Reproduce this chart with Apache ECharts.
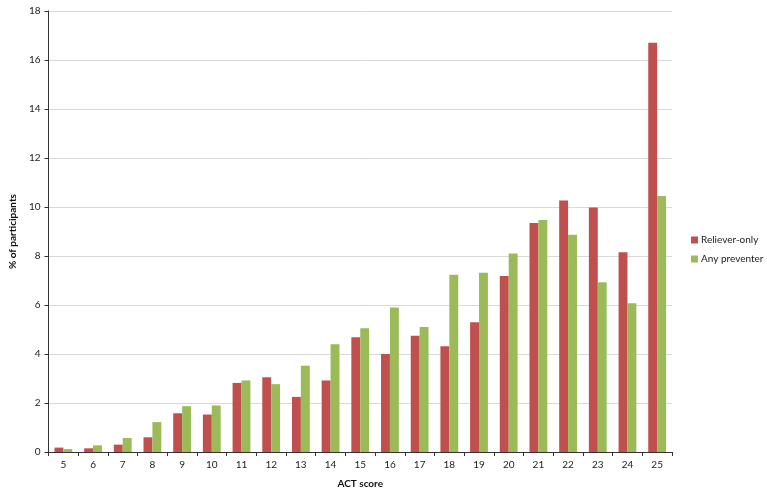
<!DOCTYPE html>
<html>
<head>
<meta charset="utf-8">
<script src="https://cdn.jsdelivr.net/npm/echarts@6/dist/echarts.min.js"></script>
<style>
  html, body { margin: 0; padding: 0; background: #fff; }
  #chart { width: 767px; height: 500px; }
</style>
</head>
<body>
<div id="chart"></div>
<script>
  var categories = ['5', '6', '7', '8', '9', '10', '11', '12', '13', '14', '15',
                    '16', '17', '18', '19', '20', '21', '22', '23', '24', '25'];
  var relieverOnly = [0.18, 0.15, 0.3, 0.6, 1.58, 1.53, 2.82, 3.05, 2.25, 2.92, 4.68,
                      4.0, 4.75, 4.32, 5.3, 7.18, 9.35, 10.27, 9.98, 8.15, 16.7];
  var anyPreventer = [0.12, 0.27, 0.57, 1.22, 1.87, 1.9, 2.92, 2.77, 3.52, 4.4, 5.05,
                      5.9, 5.1, 7.23, 7.32, 8.1, 9.47, 8.87, 6.93, 6.07, 10.45];
  var seriesNames = ['Reliever-only', 'Any preventer'];

  var font = 'Lato, "Open Sans", sans-serif';
  var myChart = echarts.init(document.getElementById('chart'));
  var option = {
    backgroundColor: '#fff',
    animation: false,
    textStyle: { fontFamily: font },
    legend: {
      orient: 'vertical',
      left: 686,
      top: 230,
      itemWidth: 7,
      itemHeight: 7,
      itemGap: 9,
      icon: 'rect',
      textStyle: { fontSize: 10, color: '#222', fontFamily: font, padding: [0, 0, 0, -2] },
      data: seriesNames
    },
    grid: { left: 48, right: 95, top: 11, bottom: 48 },
    xAxis: {
      type: 'category',
      data: categories,
      name: 'ACT score',
      nameLocation: 'middle',
      nameGap: 27,
      nameTextStyle: { fontSize: 10, fontWeight: 'bold', color: '#111', fontFamily: font },
      axisLine: { lineStyle: { color: '#333', width: 1 } },
      axisTick: { show: true, length: 4, lineStyle: { color: '#333' } },
      axisLabel: { fontSize: 10, color: '#222', margin: 8, fontFamily: font },
      splitLine: { show: false }
    },
    yAxis: {
      type: 'value',
      min: 0,
      max: 18,
      interval: 2,
      name: '% of participants',
      nameLocation: 'middle',
      nameRotate: 90,
      nameGap: 24,
      nameTextStyle: { fontSize: 10, fontWeight: 'bold', color: '#111', fontFamily: font },
      axisLine: { show: true, lineStyle: { color: '#333', width: 1 } },
      axisTick: { show: true, length: 4, lineStyle: { color: '#333' } },
      axisLabel: { fontSize: 10, color: '#222', margin: 8, fontFamily: font },
      splitLine: { lineStyle: { color: '#d9d9d9', width: 1 } }
    },
    series: [
      {
        name: seriesNames[0],
        type: 'bar',
        data: relieverOnly,
        barGap: '0%',
        barCategoryGap: '40%',
        itemStyle: { color: '#c0504d' }
      },
      {
        name: seriesNames[1],
        type: 'bar',
        data: anyPreventer,
        barGap: '0%',
        barCategoryGap: '40%',
        itemStyle: { color: '#9bbb59' }
      }
    ]
  };
  myChart.setOption(option);
  window.addEventListener('resize', function () {
    myChart.resize();
  });
</script>
</body>
</html>
